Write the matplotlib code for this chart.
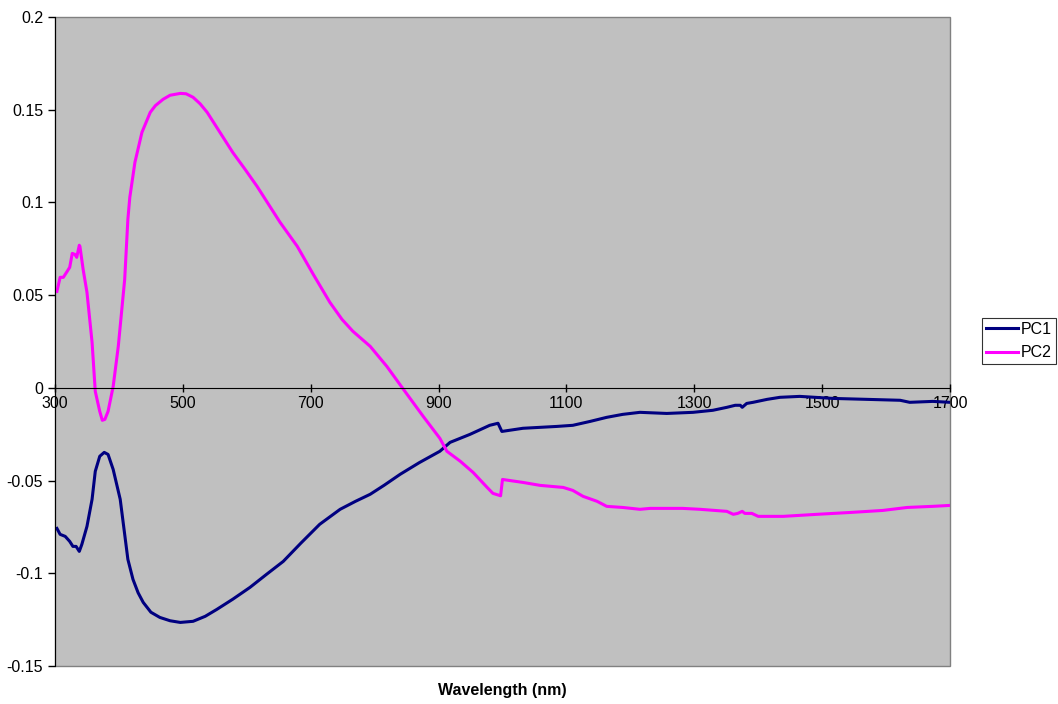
import matplotlib.pyplot as plt
from matplotlib.patches import Rectangle

plt.rcParams['font.family'] = ['Liberation Sans', 'DejaVu Sans']

# principal component loadings vs wavelength
pc1_wl = [303, 308, 316, 323, 328, 333, 338, 342, 350, 358, 363, 370, 377, 383, 391,
          402, 414, 422, 430, 438, 450, 464, 480, 496, 516, 535, 553, 578, 605, 630,
          657, 685, 714, 746, 770, 793, 815, 840, 870, 902, 918, 949, 980, 993, 999,
          1032, 1085, 1110, 1137, 1163, 1188, 1215, 1257, 1298, 1329, 1351, 1364,
          1372, 1375, 1382, 1392, 1414, 1434, 1465, 1517, 1570, 1622, 1637, 1673, 1700]
pc1 = [-0.0758, -0.0790, -0.0801, -0.0828, -0.0855, -0.0855, -0.0882, -0.0844,
       -0.0747, -0.0601, -0.0450, -0.0369, -0.0348, -0.0359, -0.0440, -0.0601,
       -0.0925, -0.1033, -0.1105, -0.1157, -0.1210, -0.1238, -0.1256, -0.1265,
       -0.1259, -0.1232, -0.1195, -0.1140, -0.1076, -0.1008, -0.0936, -0.0836,
       -0.0736, -0.0655, -0.0612, -0.0574, -0.0525, -0.0466, -0.0403, -0.0342,
       -0.0294, -0.0251, -0.0202, -0.0191, -0.0235, -0.0218, -0.0208, -0.0202,
       -0.0181, -0.0159, -0.0143, -0.0132, -0.0138, -0.0132, -0.0121, -0.0105,
       -0.0094, -0.0094, -0.0105, -0.0084, -0.0078, -0.0062, -0.0051, -0.0046,
       -0.0057, -0.0062, -0.0067, -0.0078, -0.0073, -0.0078]

pc2_wl = [303, 308, 313, 319, 323, 327, 331, 334, 338, 339, 344, 350, 358, 363, 370,
          374, 378, 383, 391, 399, 409, 414, 417, 425, 436, 449, 457, 469, 480, 496,
          505, 516, 527, 538, 558, 578, 597, 616, 652, 679, 704, 730, 749, 766, 793,
          819, 844, 876, 902, 913, 934, 954, 976, 985, 997, 1000, 1032, 1059, 1095,
          1110, 1126, 1148, 1163, 1188, 1215, 1231, 1282, 1309, 1351, 1361, 1368,
          1375, 1379, 1390, 1400, 1439, 1492, 1544, 1595, 1633, 1673, 1700]
pc2 = [0.0520, 0.0596, 0.0596, 0.0628, 0.0650, 0.0725, 0.0720, 0.0704, 0.0769,
       0.0763, 0.0639, 0.0515, 0.0245, -0.0019, -0.0127, -0.0175, -0.0170, -0.0127,
       0.0008, 0.0224, 0.0585, 0.0909, 0.1027, 0.1216, 0.1378, 0.1486, 0.1522,
       0.1556, 0.1578, 0.1588, 0.1586, 0.1567, 0.1532, 0.1486, 0.1378, 0.1270,
       0.1180, 0.1087, 0.0893, 0.0763, 0.0612, 0.0461, 0.0369, 0.0305, 0.0224,
       0.0116, -0.0003, -0.0154, -0.0272, -0.0342, -0.0396, -0.0456, -0.0537,
       -0.0569, -0.0582, -0.0494, -0.0510, -0.0526, -0.0537, -0.0553, -0.0585,
       -0.0612, -0.0639, -0.0645, -0.0655, -0.0650, -0.0650, -0.0655, -0.0666,
       -0.0682, -0.0677, -0.0666, -0.0677, -0.0677, -0.0693, -0.0693, -0.0682,
       -0.0672, -0.0661, -0.0645, -0.0639, -0.0634]

x_ticks = [300, 500, 700, 900, 1100, 1300, 1500, 1700]
y_ticks = [-0.15, -0.1, -0.05, 0, 0.05, 0.1, 0.15, 0.2]
y_labels = ['-0.15', '-0.1', '-0.05', '0', '0.05', '0.1', '0.15', '0.2']

W, H = 1058, 704
fs = 11.5
fig = plt.figure(figsize=(W / 100, H / 100), dpi=100)
ax = fig.add_axes([55 / W, 1 - 666 / H, (950 - 55) / W, (666 - 17) / H])
ax.set_facecolor('#C0C0C0')

ax.plot(pc1_wl, pc1, color='#000080', lw=2.2, label='PC1', solid_joinstyle='round')
ax.plot(pc2_wl, pc2, color='#FF00FF', lw=2.2, label='PC2', solid_joinstyle='round')

ax.set_xlim(300, 1700)
ax.set_ylim(-0.15, 0.2)

# x axis crosses at zero, plot frame in gray
for side in ('top', 'right'):
    ax.spines[side].set_visible(False)
ax.spines['bottom'].set_position(('data', 0))
ax.spines['bottom'].set_color('black')
ax.spines['left'].set_color('black')
ax.add_patch(Rectangle((0, 0), 1, 1, transform=ax.transAxes, fill=False,
                       edgecolor='#808080', lw=1, zorder=0.5, clip_on=False))

ax.set_xticks(x_ticks)
ax.set_xticklabels([str(v) for v in x_ticks])
ax.set_yticks(y_ticks)
ax.set_yticklabels(y_labels)
ax.tick_params(axis='x', direction='inout', length=6, width=1, labelsize=fs, pad=3)
ax.tick_params(axis='y', direction='out', length=5, width=1, labelsize=fs, pad=3.5)

fig.text(502 / W, 1 - 691 / H, 'Wavelength (nm)', ha='center', va='center',
         fontsize=fs, fontweight='bold')

leg = fig.legend(loc='center left', bbox_to_anchor=(982 / W, 1 - 341 / H),
                 fontsize=fs, frameon=True, fancybox=False, edgecolor='black',
                 borderpad=0.25, handlelength=2.0, handletextpad=0.2,
                 labelspacing=0.55, borderaxespad=0)
leg.get_frame().set_linewidth(0.8)

fig.savefig('out.png', dpi=100)
